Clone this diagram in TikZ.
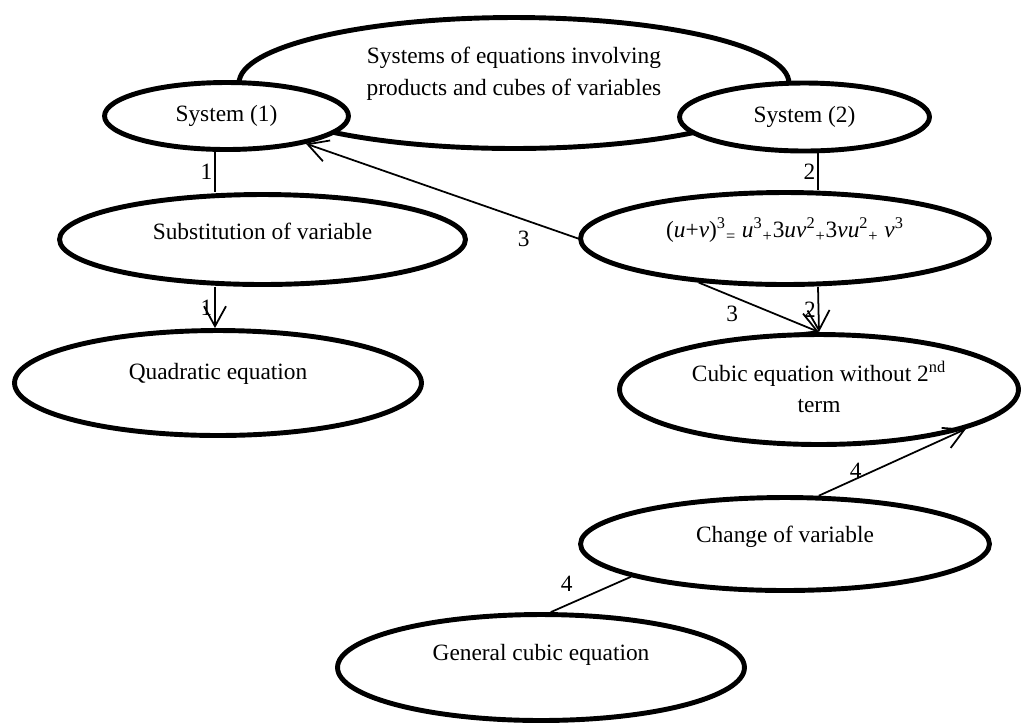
\documentclass[tikz,border=0pt]{standalone}
\usepackage{fontspec}
\setmainfont{Liberation Serif}
\usetikzlibrary{shapes.geometric,arrows.meta,positioning}
\tikzset{
  >={Straight Barb[length=4mm,width=4.4mm]},
  oval/.style={ellipse, draw=black, line width=2.8pt, fill=white, inner sep=0pt,
               align=center, font=\fontsize{13.3}{15}\selectfont},
  lift/.style={text height=9pt, text depth=#1},
  link/.style={draw, line width=1pt},
  num/.style={inner sep=1pt, font=\fontsize{13.3}{15}\selectfont}
}

\begin{document}
\begin{tikzpicture}[x=0.02cm,y=-0.02cm]
      \useasboundingbox (0,0) rectangle (1021,725);

      % First draw the big ellipse, the two systems sit on top of it.
      \node[oval, minimum width=11cm, minimum height=2.62cm, text depth=13.2pt,
      font=\fontsize{13.3}{18}\selectfont]
      (systems) at (514,83) {Systems of equations involving\\products and cubes of variables};
      \node[oval, minimum width=4.88cm, minimum height=1.34cm] (sys1) at (226.5,116) {System (1)};
      \node[oval, minimum width=5cm, minimum height=1.36cm] (sys2) at (804.5,117) {System (2)};

      % Left branch.
      \node[oval, minimum width=8.12cm, minimum height=1.8cm, lift=9.3pt]
      (subst) at (262.5,239.5) {Substitution of variable};
      \node[oval, minimum width=8.14cm, minimum height=2.1cm, lift=13.2pt]
      (quad) at (218,383) {Quadratic equation};

      % Right branch.
      \node[oval, minimum width=8.18cm, minimum height=1.84cm, lift=10.4pt] (ucube) at (785,238.5)
      {(\textit{u}+\textit{v})\textsuperscript{3}\textsubscript{=}\ \textit{u}\textsuperscript{3}\textsubscript{+}3\textit{uv}\textsuperscript{2}\textsubscript{+}3\textit{vu}\textsuperscript{2}\textsubscript{+}\ \textit{v}\textsuperscript{3}};
      \node[oval, minimum width=7.98cm, minimum height=2.2cm, text depth=3pt,
      font=\fontsize{13.3}{18}\selectfont]
      (cubic) at (819,389.5) {Cubic equation without 2\textsuperscript{nd}\\term};
      \node[oval, minimum width=8.18cm, minimum height=1.86cm, lift=11pt]
      (change) at (785,544) {Change of variable};
      \node[oval, minimum width=8.14cm, minimum height=2.12cm, lift=17.2pt]
      (general) at (541,667.5) {General cubic equation};

      % Path 1: System (1) down to the quadratic equation.
      \coordinate (left) at (215,0);
      \draw[link] (left |- sys1.south) -- (left |- subst.north) node[midway,num,left] {1};
      \draw[link,->] (left |- subst.south) -- (left |- quad.north) node[midway,num,left] {1};

      % Path 2: System (2) down to the cubic equation.
      \coordinate (right) at (818,0);
      \draw[link] (right |- sys2.south) -- (right |- ucube.north) node[midway,num,left] {2};
      \draw[link,->] (right |- ucube.south) -- (cubic.north) node[midway,num,left] {2};

      % Path 3: the identity leads to both.
      \draw[link,->] (ucube.west) -- (sys1) node[pos=0.2,num,below=5pt] {3};
      \draw[link,->] (ucube.207) -- (cubic.north) node[pos=0.28,num,below=4pt] {3};

      % Path 4: general cubic via change of variable.
      \draw[link] (general.80) -- (change.192) node[pos=0.2,num,above=6pt] {4};
      \draw[link,->] (change.55) -- (cubic.345) node[pos=0.25,num,above=-1pt] {4};

    \end{tikzpicture}
\end{document}
